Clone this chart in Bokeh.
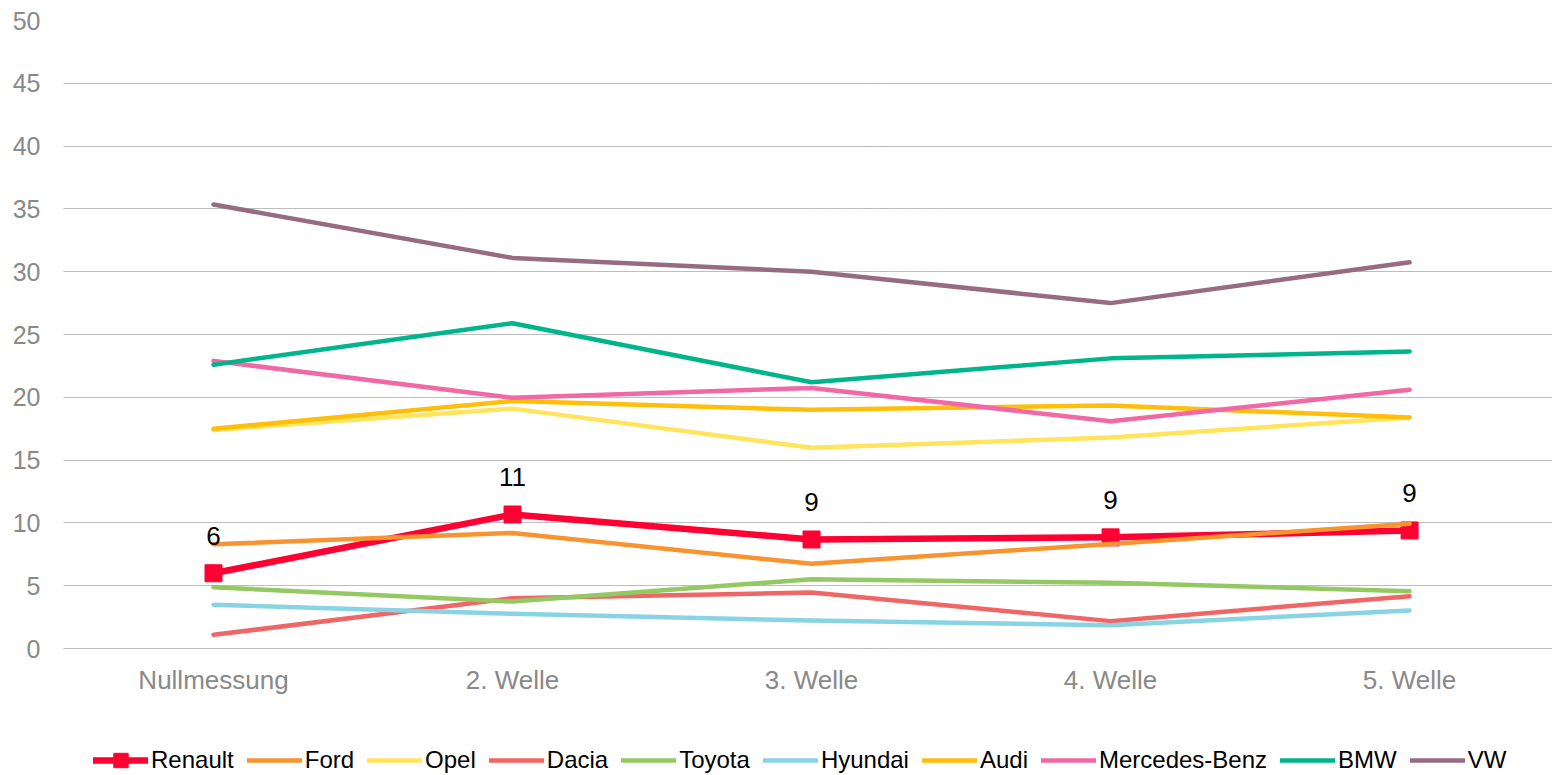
from bokeh.plotting import figure
from bokeh.models import Range1d, FixedTicker, Legend, LegendItem, ColumnDataSource
from bokeh.embed import file_html
from bokeh.resources import INLINE
from bokeh.core.properties import value

# ---- data ----
waves = ["Nullmessung", "2. Welle", "3. Welle", "4. Welle", "5. Welle"]
renault = [5.99, 10.67, 8.68, 8.85, 9.40]
renault_labels = ["6", "11", "9", "9", "9"]
ford = [8.30, 9.20, 6.74, 8.33, 9.93]
opel = [17.40, 19.10, 15.98, 16.80, 18.40]
dacia = [1.09, 4.00, 4.46, 2.18, 4.17]
toyota = [4.88, 3.74, 5.52, 5.23, 4.56]
hyundai = [3.48, 2.76, 2.23, 1.86, 3.03]
audi = [17.50, 19.70, 19.00, 19.35, 18.40]
mercedes = [22.90, 19.96, 20.75, 18.10, 20.60]
bmw = [22.60, 25.90, 21.20, 23.10, 23.65]
vw = [35.35, 31.10, 30.00, 27.50, 30.75]
y_ticks = [0, 5, 10, 15, 20, 25, 30, 35, 40, 45, 50]

series = [
    ("Ford", ford, "#F7942F"),
    ("Opel", opel, "#FFE45C"),
    ("Dacia", dacia, "#F06565"),
    ("Toyota", toyota, "#93C862"),
    ("Hyundai", hyundai, "#89D4E4"),
    ("Audi", audi, "#FFBE0A"),
    ("Mercedes-Benz", mercedes, "#F068A5"),
    ("BMW", bmw, "#00B48B"),
    ("VW", vw, "#976B80"),
]

xs = list(range(len(waves)))

# frame spans the whole height; the value axis runs 0..50 and the space
# below 0 holds the category labels and the legend
p = figure(width=1552, height=775, output_backend="svg", toolbar_location=None,
           x_range=Range1d(-0.5017, 4.478), y_range=Range1d(-10.11, 50),
           min_border_left=63, min_border_right=0, min_border_top=20,
           min_border_bottom=0)
p.outline_line_color = None
p.background_fill_color = "white"
p.border_fill_color = "white"

font = "Liberation Sans, Arial, sans-serif"

items = []
src_r = ColumnDataSource(dict(x=xs, y=renault, t=renault_labels))
rl = p.line("x", "y", source=src_r, line_color="#FF0033", line_width=6.5,
            line_join="round", line_cap="round")
rs = p.scatter("x", "y", source=src_r, marker="square", size=17,
               fill_color="#FF0033", line_color="#FF0033")
items.append(LegendItem(label="Renault", renderers=[rl, rs]))

for name, vals, col in series:
    r = p.line(xs, vals, line_color=col, line_width=4.5, line_join="round",
               line_cap="round")
    items.append(LegendItem(label=name, renderers=[r]))

p.text("x", "y", text="t", source=src_r, text_align="center",
       text_baseline="middle", y_offset=-37, text_font=value(font),
       text_font_size="26px", text_color="black")

# axes
p.xaxis.ticker = FixedTicker(ticks=xs)
p.xaxis.major_label_overrides = {i: w for i, w in enumerate(waves)}
p.xaxis.fixed_location = 0
p.yaxis.ticker = FixedTicker(ticks=y_ticks)
for ax in (p.xaxis[0], p.yaxis[0]):
    ax.axis_line_color = None
    ax.major_tick_line_color = None
    ax.minor_tick_line_color = None
    ax.major_tick_out = 0
    ax.major_tick_in = 0
    ax.major_label_text_color = "#898989"
    ax.major_label_text_font = font
p.xaxis.major_label_text_font_size = "26px"
p.yaxis.major_label_text_font_size = "25px"
p.yaxis.major_label_standoff = 23
p.xaxis.major_label_standoff = 16

p.xgrid.grid_line_color = None
p.ygrid.ticker = FixedTicker(ticks=y_ticks)
p.ygrid.grid_line_color = "#7a7a7a"
p.ygrid.grid_line_dash = "1 1"
p.ygrid.grid_line_width = 1

legend = Legend(items=items, orientation="horizontal", location=(30, -3),
                glyph_width=55, glyph_height=36, label_standoff=3, spacing=13,
                padding=0, margin=0, border_line_color=None,
                background_fill_alpha=0,
                label_text_font=font,
                label_text_font_size="24px", label_text_color="black")
p.add_layout(legend, "center")

open("out.html", "w").write(file_html(p, INLINE))
